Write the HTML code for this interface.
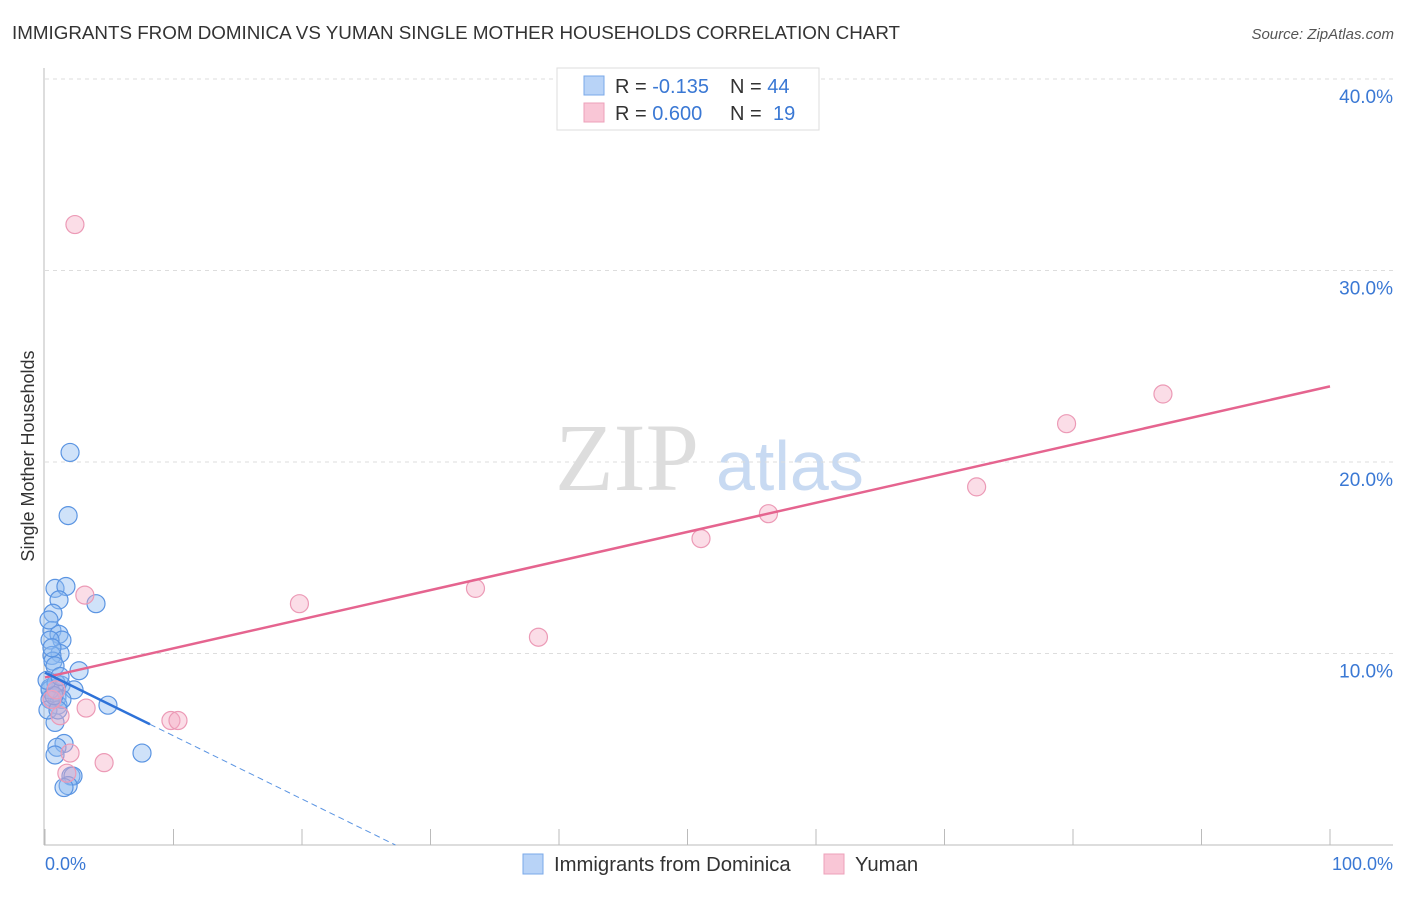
<!DOCTYPE html>
<html><head><meta charset="utf-8"><style>
body{margin:0;background:#fff;font-family:"Liberation Sans",sans-serif;}
</style></head><body>
<svg id="c" width="1406" height="892" xmlns="http://www.w3.org/2000/svg">
<text x="12" y="39" font-size="18.8" fill="#333">IMMIGRANTS FROM DOMINICA VS YUMAN SINGLE MOTHER HOUSEHOLDS CORRELATION CHART</text>
<text x="1394" y="39" font-size="15" fill="#555" font-style="italic" text-anchor="end">Source: ZipAtlas.com</text>
<text transform="translate(34,456) rotate(-90)" font-size="18" fill="#333" text-anchor="middle">Single Mother Households</text>
<text x="555" y="490" font-size="96" fill="#ddd" font-family="Liberation Serif,serif">ZIP</text>
<text x="716" y="490" font-size="70" fill="#c8daf2">atlas</text>
<g id="grid"></g><g id="pts"></g><g id="lines"></g>
<g>
<rect x="557" y="68" width="262" height="62" fill="#fff" stroke="#ddd"/>
<rect x="584" y="76" width="20" height="19" fill="#b8d3f7" stroke="#7aa8e8"/>
<rect x="584" y="103" width="20" height="19" fill="#f9c6d6" stroke="#eda0ba"/>
<text x="615" y="93" font-size="20" fill="#333">R = <tspan fill="#3a78d4">-0.135</tspan><tspan x="730">N = </tspan><tspan fill="#3a78d4">44</tspan></text>
<text x="615" y="120" font-size="20" fill="#333">R = <tspan fill="#3a78d4">0.600</tspan><tspan x="730">N = </tspan><tspan fill="#3a78d4" x="773">19</tspan></text>
</g>
<g>
<rect x="523" y="854" width="20" height="20" fill="#b8d3f7" stroke="#7aa8e8"/>
<text x="554" y="871" font-size="20.3" fill="#333">Immigrants from Dominica</text>
<rect x="824" y="854" width="20" height="20" fill="#f9c6d6" stroke="#eda0ba"/>
<text x="855" y="871" font-size="20.3" fill="#333">Yuman</text>
</g>
<text x="45" y="870" font-size="18" fill="#3a78d4">0.0%</text>
<text x="1393" y="870" font-size="18" fill="#3a78d4" text-anchor="end">100.0%</text>
</svg>
<script>
const yTicks=[10,20,30,40];
const xTickVals=[0,10,20,30,40,50,60,70,80,90,100];
const blueX=[1.95,1.8,0.78,1.63,1.09,3.97,0.62,0.54,1.09,1.32,0.39,1.17,0.54,0.62,0.78,2.65,0.39,0.78,1.25,2.26,0.54,0.93,1.01,4.9,0.78,1.48,0.93,0.78,7.55,2.02,2.18,1.8,1.48,0.39,0.23,1.32,0.39,0.86,0.54,1.01,0.7,0.16,1.17,0.31];
const blueY=[20.5,17.2,13.4,13.5,12.8,12.6,12.1,11.2,11.0,10.7,10.7,10.0,9.9,9.6,9.35,9.1,8.2,8.0,8.35,8.1,7.7,7.7,7.3,7.3,6.4,5.3,5.1,4.7,4.8,3.6,3.6,3.1,3.0,7.6,7.05,7.6,8.1,8.45,10.3,7.05,7.8,8.6,8.8,11.75];
const pinkX=[2.33,87.0,79.5,72.5,56.3,51.05,33.5,19.8,38.4,3.1,3.2,1.17,9.8,10.35,1.95,4.6,1.7,0.54,0.86];
const pinkY=[32.4,23.55,22.0,18.7,17.3,16.0,13.4,12.6,10.85,13.05,7.15,6.75,6.5,6.5,4.8,4.3,3.75,7.6,8.1];
const blueTrend=[9.0,-0.33]; // intercept, slope
const pinkTrend=[8.75,0.152];
const blueSolidEnd=8.17;
const NS='http://www.w3.org/2000/svg';
const sx=v=>45+v*12.85, sy=v=>845-v*19.15;
function mk(t,a,p){const e=document.createElementNS(NS,t);for(const k in a)e.setAttribute(k,a[k]);p.appendChild(e);return e;}
const g=document.getElementById('grid');
yTicks.forEach(v=>{
 const l=mk('line',{x1:45,x2:1393,y1:sy(v),y2:sy(v),stroke:'#ddd','stroke-dasharray':'4,4'},g);
 
 
 const t=mk('text',{x:1393,y:sy(v)+24,'font-size':19,fill:'#3a78d4','text-anchor':'end'},g);
 t.textContent=v.toFixed(1)+'%';
 
 
});
mk('line',{x1:44,x2:44,y1:68,y2:845,stroke:'#bbb'},g);
mk('line',{x1:44,x2:1393,y1:845,y2:845,stroke:'#bbb'},g);
xTickVals.forEach(v=>{
 const l=mk('line',{x1:sx(v),x2:sx(v),y1:829,y2:845,stroke:'#bbb'},g);
 
 
});
const p=document.getElementById('pts');
blueX.forEach((x,i)=>{
 const c=mk('circle',{cx:sx(x),cy:sy(blueY[i]),r:9,fill:'rgba(140,185,240,0.42)',stroke:'#5a94e2','stroke-width':1.2},p);
 
 
});
pinkX.forEach((x,i)=>{
 const c=mk('circle',{cx:sx(x),cy:sy(pinkY[i]),r:9,fill:'rgba(245,170,195,0.4)',stroke:'#ec9ab6','stroke-width':1.2},p);
 
 
});
const L=document.getElementById('lines');
const pf=x=>pinkTrend[0]+pinkTrend[1]*x, bf=x=>blueTrend[0]+blueTrend[1]*x;
const pl=mk('line',{x1:sx(0),y1:sy(pf(0)),x2:sx(100),y2:sy(pf(100)),stroke:'#e5648f','stroke-width':2.5},L);


const bl=mk('line',{x1:sx(0),y1:sy(bf(0)),x2:sx(blueSolidEnd),y2:sy(bf(blueSolidEnd)),stroke:'#2e72d8','stroke-width':2.5},L);


const x0=-blueTrend[0]/blueTrend[1];
const bd=mk('line',{x1:sx(blueSolidEnd),y1:sy(bf(blueSolidEnd)),x2:sx(x0),y2:sy(0),stroke:'#5a94e2','stroke-width':1,'stroke-dasharray':'6,4'},L);


</script>
</body></html>
